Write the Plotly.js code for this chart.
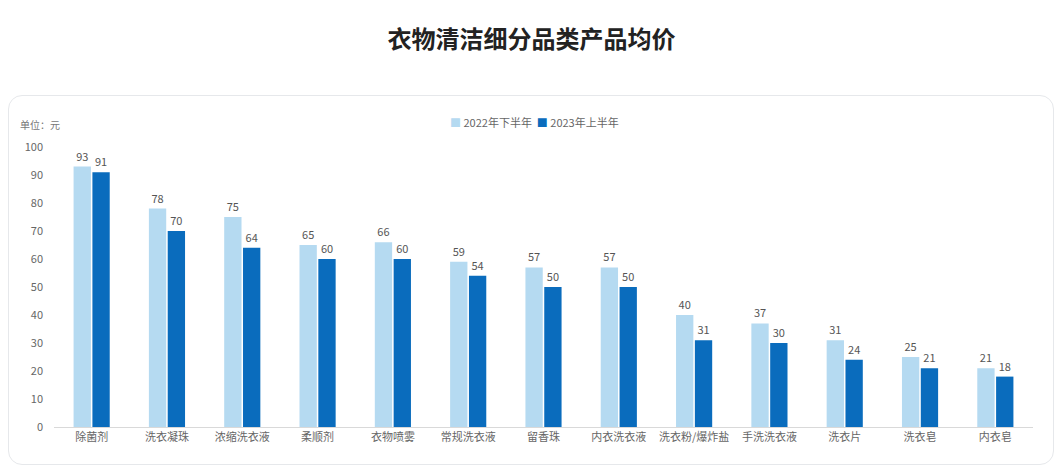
<!DOCTYPE html>
<html>
<head>
<meta charset="utf-8">
<script src="https://cdn.plot.ly/plotly-3.0.1.min.js"></script>
<style>
  html, body { margin:0; padding:0; background:#ffffff; }
  #wrap { position:relative; width:1063px; height:469px; overflow:hidden; }
  #card { position:absolute; left:8px; top:95px; width:1046px; height:370px; border:1px solid #e6e8eb; border-radius:14px; background:#ffffff; box-sizing:border-box; }
  #chart { position:absolute; left:0; top:0; width:1063px; height:469px; }
</style>
</head>
<body>
<div id="wrap">
  <div id="card"></div>
  <div id="chart"></div>
</div>
<script>
const categories = ["除菌剂","洗衣凝珠","浓缩洗衣液","柔顺剂","衣物喷雾","常规洗衣液","留香珠","内衣洗衣液","洗衣粉/爆炸盐","手洗洗衣液","洗衣片","洗衣皂","内衣皂"];
const series2022H2 = [93,78,75,65,66,59,57,57,40,37,31,25,21];
const series2023H1 = [91,70,64,60,60,54,50,50,31,30,24,21,18];
const seriesNames = ["2022年下半年","2023年上半年"];
const seriesColors = ["#b5daf1","#0a6cbd"];
const titleText = "衣物清洁细分品类产品均价";
const unitText = "单位：元";

const font = "'Noto Sans CJK SC', 'Noto Sans', sans-serif";
const allSeries = [series2022H2, series2023H1];
const traces = allSeries.map((vals, i) => ({
  type:"bar", name:seriesNames[i], x:categories, y:vals, marker:{color:seriesColors[i]},
  text:vals.map(String), textposition:"outside", cliponaxis:false,
  textfont:{size:11, color:"#555555", family:font}, hoverinfo:"x+y"
}));

const legendText = seriesNames.map((n, i) =>
  "<span style='color:" + seriesColors[i] + "'>■</span> " + n).join("  ");

const layout = {
  width:1063, height:469,
  paper_bgcolor:"rgba(0,0,0,0)", plot_bgcolor:"rgba(0,0,0,0)",
  margin:{l:54, r:30, t:147, b:42},
  font:{family:font, color:"#666666"},
  title:{text:"<b>"+titleText+"</b>", x:0.5, xanchor:"center", y:0.915, yanchor:"middle",
         font:{size:24, color:"#222222", family:font}},
  barmode:"group", bargap:0.5, bargroupgap:0.08,
  showlegend:false,
  xaxis:{type:"category", showgrid:false, showline:true, linecolor:"#d9d9d9", linewidth:1,
         ticks:"", tickfont:{size:11, color:"#666666", family:font}, fixedrange:true},
  yaxis:{range:[0,100], dtick:10, showgrid:false, zeroline:false, showline:false,
         ticks:"", ticklabelstandoff:10, tickfont:{size:11, color:"#666666", family:font}, fixedrange:true},
  annotations:[
    {text:unitText, xref:"paper", yref:"paper", x:-0.037, y:1.079, xanchor:"left", yanchor:"middle",
     showarrow:false, font:{size:10, color:"#777777", family:font}},
    {text:legendText, xref:"paper", yref:"paper", x:0.491, y:1.089, xanchor:"center", yanchor:"middle",
     showarrow:false, font:{size:11, color:"#666666", family:font}}
  ]
};
Plotly.newPlot("chart", traces, layout, {displayModeBar:false, staticPlot:true});
</script>
</body>
</html>
